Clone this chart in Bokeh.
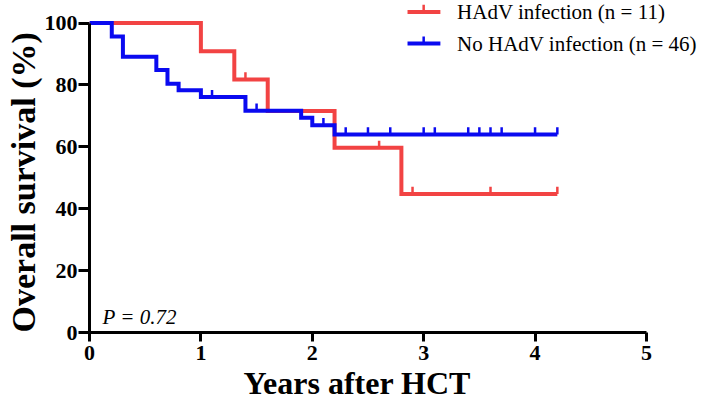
from bokeh.plotting import figure
from bokeh.models import FixedTicker, Range1d, Title
from bokeh.core.properties import value
from bokeh.embed import file_html
from bokeh.resources import INLINE
import numpy as np

# ---- data ----
hadv_name = "HAdV infection (n = 11)"
hadv_times = [0, 1.0, 1.3, 1.6, 2.2, 2.8, 4.2]
hadv_surv = [100, 90.9, 81.8, 71.6, 59.7, 44.8, 44.8]
hadv_censor = [1.4, 2.6, 2.9, 3.6, 4.2]

nohadv_name = "No HAdV infection (n = 46)"
nohadv_times = [0, 0.2, 0.3, 0.6, 0.7, 0.8, 1.0, 1.4, 1.9, 2.0, 2.2, 4.2]
nohadv_surv = [100, 95.7, 89.1, 84.8, 80.4, 78.3, 76.1, 71.7, 69.4, 67.0, 64.0, 64.0]
nohadv_censor = [1.1, 1.5, 2.1, 2.3, 2.5, 2.7, 3.0, 3.1, 3.4, 3.5, 3.6, 3.7, 4.0, 4.2]

x_ticks = [0, 1, 2, 3, 4, 5]
y_ticks = [0, 20, 40, 60, 80, 100]
p_text = "P = 0.72"
x_title = "Years after HCT"
y_title = "Overall survival (%)"

# ---- style ----
RED = "#F24343"
BLUE = "#0A0AF0"
SERIF = "Liberation Serif"
LW = 4
TICK_H = 2.3

p = figure(width=709, height=404, output_backend="svg", toolbar_location=None,
           x_range=Range1d(0, 5.566), y_range=Range1d(0, 107.3),
           min_border_left=89, min_border_right=0, min_border_top=0,
           min_border_bottom=72)
p.outline_line_color = None
p.xgrid.visible = False
p.ygrid.visible = False
p.background_fill_color = "white"


def censor_levels(times, surv, cens):
    idx = np.searchsorted(np.array(times), np.array(cens), side="right") - 1
    return [surv[i] for i in idx]


for times, surv, cens, col in [(hadv_times, hadv_surv, hadv_censor, RED),
                               (nohadv_times, nohadv_surv, nohadv_censor, BLUE)]:
    p.step(times, surv, mode="after", line_color=col, line_width=LW,
           line_join="miter")
    lv = censor_levels(times, surv, cens)
    p.segment(x0=cens, y0=lv, x1=cens, y1=[v + TICK_H for v in lv],
              line_color=col, line_width=2.5)

# ---- manual legend ----
for name, col, ly in [(hadv_name, RED, 103.6), (nohadv_name, BLUE, 93.4)]:
    p.segment(x0=[2.855], y0=[ly], x1=[3.15], y1=[ly], line_color=col, line_width=LW)
    p.segment(x0=[3.0], y0=[ly], x1=[3.0], y1=[ly + TICK_H], line_color=col, line_width=2.5)
    p.text(x=[3.30], y=[ly], text=[name], text_baseline="middle",
           text_font=value(SERIF), text_font_size="21px", text_color="black")

# ---- axes ----
for ax in (p.xaxis[0], p.yaxis[0]):
    ax.axis_line_width = 3
    ax.axis_line_color = "black"
    ax.major_tick_line_width = 3
    ax.major_tick_line_color = "black"
    ax.minor_tick_line_color = None
    ax.major_tick_in = 0
    ax.major_label_text_font = SERIF
    ax.major_label_text_font_style = "bold"
    ax.major_label_text_font_size = "22px"
    ax.major_label_text_color = "black"

p.xaxis[0].ticker = FixedTicker(ticks=x_ticks)
p.yaxis[0].ticker = FixedTicker(ticks=y_ticks)
p.xaxis[0].bounds = (0, 5)
p.yaxis[0].bounds = (0, 100)
p.xaxis[0].major_tick_out = 9
p.xaxis[0].major_label_standoff = 4
p.yaxis[0].major_tick_out = 11
p.yaxis[0].major_label_standoff = 1

# axis titles as Title objects (positioned along the axes)
p.add_layout(Title(text=x_title, align="left", offset=154, standoff=0,
                   text_font=SERIF, text_font_style="bold", text_font_size="32px",
                   text_color="black"), "below")
p.add_layout(Title(text=y_title, align="left", offset=0, standoff=0,
                   text_font=SERIF, text_font_style="bold", text_font_size="34px",
                   text_color="black"), "left")

# P-value
p.text(x=[0.117], y=[5.17], text=[p_text], text_baseline="alphabetic",
       text_font=value(SERIF), text_font_style="italic", text_font_size="21px",
       text_color="black")

open("out.html", "w").write(file_html(p, INLINE))
